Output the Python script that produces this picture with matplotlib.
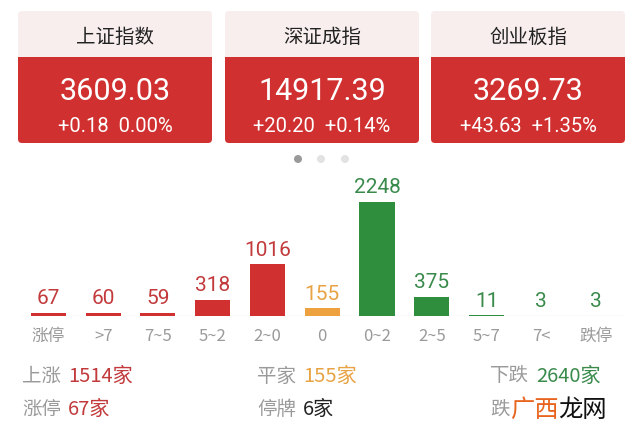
import matplotlib.pyplot as plt
from matplotlib.patches import FancyBboxPatch, Rectangle, Circle

plt.rcParams['font.family'] = ['Noto Sans CJK SC', 'DejaVu Sans']

# index cards
index_names = ['上证指数', '深证成指', '创业板指']
index_values = ['3609.03', '14917.39', '3269.73']
index_changes = ['+0.18', '+20.20', '+43.63']
index_pcts = ['0.00%', '+0.14%', '+1.35%']

# distribution of stock moves
categories = ['涨停', '>7', '7~5', '5~2', '2~0', '0', '0~2', '2~5', '5~7', '7<', '跌停']
counts = [67, 60, 59, 318, 1016, 155, 2248, 375, 11, 3, 3]

# summary rows
summary_labels = [['上涨', '平家', '下跌'], ['涨停', '停牌', '跌停']]
summary_values = [['1514家', '155家', '2640家'], ['67家', '6家', '3家']]

RED = '#d0302f'
ORANGE = '#eea23f'
GREEN = '#2f8d3e'
bar_colors = [RED] * 5 + [ORANGE] + [GREEN] * 5
label_colors = ['#c23a3c'] * 5 + ['#e8a345'] + ['#3a8a4c'] * 5
summary_colors = [['#c23a3c', '#e8a345', '#3a8a4c'], ['#c23a3c', '#222222', '#3a8a4c']]

fig = plt.figure(figsize=(6.4, 4.39), dpi=100)
fig.patch.set_facecolor('white')

# pixel-space overlay for the cards and text
ax0 = fig.add_axes([0, 0, 1, 1])
ax0.set_xlim(0, 640)
ax0.set_ylim(439, 0)
ax0.axis('off')

card_left = [18, 225, 431]
card_w = 194
for i in range(3):
    x = card_left[i]
    cx = x + card_w / 2
    ax0.add_patch(FancyBboxPatch((x, 12), card_w, 52, boxstyle='round,pad=0,rounding_size=4',
                                 fc='#f8eeee', ec='none'))
    ax0.add_patch(FancyBboxPatch((x, 58), card_w, 86, boxstyle='round,pad=0,rounding_size=4',
                                 fc=RED, ec='none'))
    ax0.add_patch(Rectangle((x, 58), card_w, 30, fc=RED, ec='none'))
    ax0.text(cx, 37, index_names[i], ha='center', va='center', fontsize=14, color='#222222')
    ax0.text(cx, 92, index_values[i], ha='center', va='center', fontsize=22, color='white',
             family=['Roboto', 'DejaVu Sans'])
    ax0.text(cx, 127, index_changes[i] + '  ' + index_pcts[i], ha='center', va='center',
             fontsize=14.5, color='white', family=['Roboto', 'DejaVu Sans'])

# pager dots
for dx, c in zip([298, 321, 345], ['#9a9a9a', '#e2e2e2', '#e2e2e2']):
    ax0.add_patch(Circle((dx, 160), 4, fc=c, ec='none'))

# summary rows
col_x = [22, 257, 490]
row_y = [376, 409]
for r in range(2):
    for c in range(3):
        ax0.text(col_x[c], row_y[r], summary_labels[r][c], ha='left', va='center',
                 fontsize=14, color='#9a9a9a')
        ax0.text(col_x[c] + 46, row_y[r], summary_values[r][c], ha='left', va='center',
                 fontsize=14.5, color=summary_colors[r][c], fontweight='medium')

# site watermark drawn over the last summary cell
ax0.text(510, 410, '广西', ha='left', va='center', fontsize=17.5, color='#e8641e', zorder=5,
         bbox=dict(fc='white', ec='none', pad=0))
ax0.text(558, 410, '龙网', ha='left', va='center', fontsize=17.5, color='#111111', zorder=5,
         bbox=dict(fc='white', ec='none', pad=0))

# bar chart
ax = fig.add_axes([21 / 640, 1 - 317 / 439, 602.5 / 640, 114 / 439])
ax.patch.set_alpha(0)
xs = range(len(categories))
ax.bar(xs, counts, width=0.64, color=bar_colors)
ax.axhline(0, color='#e6e6e6', lw=1, zorder=0)
ax.set_xlim(-0.5, len(categories) - 0.5)
ax.set_ylim(0, max(counts))
for x, v, c in zip(xs, counts, label_colors):
    ax.annotate(str(v), (x, v), xytext=(0, 4), textcoords='offset points',
                ha='center', va='bottom', fontsize=15, color=c, family=['Roboto', 'DejaVu Sans'])
ax.set_xticks(list(xs))
ax.set_xticklabels(categories, fontsize=12, color='#9a9a9a')
ax.tick_params(axis='x', length=0, pad=8)
ax.set_yticks([])
for s in ax.spines.values():
    s.set_visible(False)

fig.savefig('out.png', dpi=100)
